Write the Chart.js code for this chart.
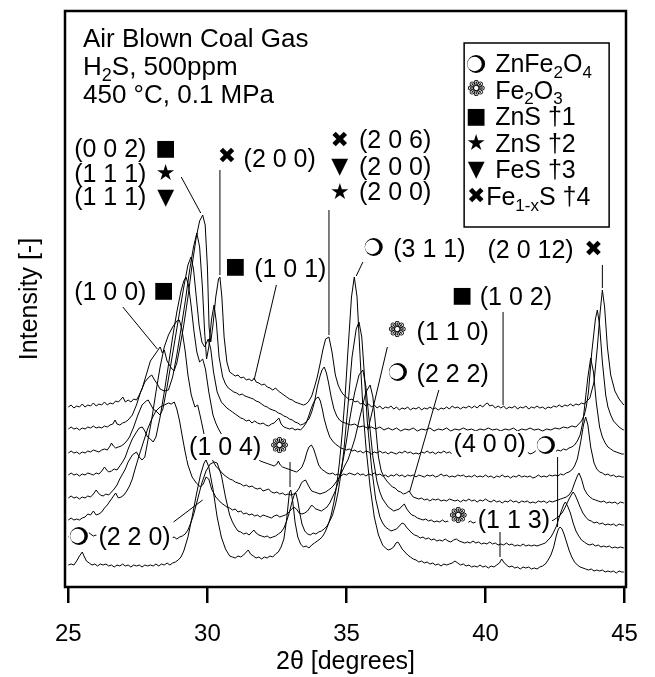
<!DOCTYPE html>
<html>
<head>
<meta charset="utf-8">
<script src="https://cdn.jsdelivr.net/npm/chart.js@4.4.1/dist/chart.umd.min.js"></script>
<style>
  html, body { margin: 0; padding: 0; background: #fff; }
  #wrap { width: 655px; height: 677px; }
</style>
</head>
<body>
<div id="wrap"><canvas id="xrdChart" width="655" height="677"></canvas></div>
<script>
// ============================
// Data (2theta in degrees, intensity in arbitrary units, offset per scan)
// scan1 = bottom pattern ... scan8 = top pattern
// ============================
const scan1 = [[25.0,22],[25.1,23],[25.2,22],[25.3,26],[25.4,31],[25.5,35],[25.58,30],[25.65,26],[25.75,24],[25.85,22],[25.95,23],[26.05,21],[26.15,23],[26.25,22],[26.35,23],[26.45,21],[26.55,22],[26.65,20],[26.75,22],[26.85,21],[26.95,23],[27.05,21],[27.15,22],[27.25,20],[27.35,22],[27.45,21],[27.55,22],[27.65,20],[27.75,22],[27.85,21],[27.95,22],[28.05,21],[28.15,23],[28.25,21],[28.35,23],[28.45,22],[28.55,24],[28.65,22],[28.75,24],[28.85,25],[28.95,27],[29.05,30],[29.15,36],[29.3,50],[29.45,70],[29.6,92],[29.75,112],[29.88,124],[29.95,127],[30.05,120],[30.2,98],[30.35,70],[30.5,50],[30.65,38],[30.8,31],[30.9,30],[31.0,29],[31.1,31],[31.2,30],[31.3,32],[31.4,35],[31.47,37],[31.55,33],[31.65,31],[31.75,29],[31.85,30],[31.95,28],[32.05,30],[32.15,29],[32.25,31],[32.35,30],[32.45,33],[32.55,35],[32.65,40],[32.75,48],[32.85,68],[32.95,95],[33.0,97],[33.07,85],[33.15,65],[33.25,50],[33.35,43],[33.45,40],[33.55,41],[33.65,39],[33.75,42],[33.85,44],[33.95,46],[34.05,48],[34.15,51],[34.25,56],[34.35,63],[34.45,72],[34.55,85],[34.65,102],[34.75,125],[34.85,155],[34.95,190],[35.05,235],[35.18,290],[35.28,310],[35.38,290],[35.5,225],[35.6,175],[35.7,140],[35.85,100],[36.0,70],[36.15,52],[36.3,42],[36.4,39],[36.5,37],[36.6,38],[36.7,40],[36.78,44],[36.85,45],[36.92,42],[37.0,38],[37.1,35],[37.2,32],[37.3,30],[37.4,28],[37.5,27],[37.6,25],[37.7,26],[37.8,24],[37.9,25],[38.0,23],[38.1,24],[38.2,22],[38.3,23],[38.4,21],[38.5,23],[38.6,22],[38.7,23],[38.8,24],[38.9,26],[39.0,24],[39.1,22],[39.2,23],[39.3,21],[39.4,22],[39.5,20],[39.6,21],[39.7,20],[39.8,22],[39.9,20],[40.0,21],[40.1,19],[40.2,21],[40.3,20],[40.4,22],[40.5,24],[40.58,28],[40.65,25],[40.75,22],[40.85,20],[40.95,21],[41.05,19],[41.15,20],[41.25,18],[41.35,20],[41.45,19],[41.55,20],[41.65,18],[41.75,19],[41.85,18],[41.95,20],[42.05,21],[42.15,23],[42.25,27],[42.35,32],[42.45,40],[42.55,52],[42.62,58],[42.68,60],[42.75,58],[42.82,53],[42.9,46],[43.0,37],[43.1,30],[43.2,25],[43.3,22],[43.4,20],[43.5,19],[43.6,18],[43.7,17],[43.8,18],[43.9,16],[44.0,17],[44.1,16],[44.2,17],[44.3,15],[44.4,16],[44.5,15],[44.6,16],[44.7,14],[44.8,16],[44.9,15],[44.97,15]];
const scan2 = [[25.0,50],[25.1,52],[25.2,50],[25.3,51],[25.4,49],[25.5,51],[25.6,52],[25.7,55],[25.8,53],[25.9,51],[26.0,52],[26.1,50],[26.2,51],[26.3,49],[26.4,51],[26.5,50],[26.6,52],[26.7,50],[26.8,51],[26.9,49],[27.0,51],[27.1,49],[27.2,50],[27.3,48],[27.4,50],[27.5,49],[27.6,50],[27.7,48],[27.8,50],[27.9,48],[28.0,49],[28.1,47],[28.2,49],[28.3,48],[28.4,50],[28.5,48],[28.6,51],[28.7,49],[28.8,50],[28.9,48],[29.0,50],[29.1,51],[29.2,53],[29.3,57],[29.4,64],[29.5,72],[29.65,88],[29.8,104],[29.95,116],[30.1,123],[30.25,125],[30.35,124],[30.5,112],[30.65,90],[30.8,72],[30.9,65],[31.0,60],[31.1,56],[31.2,55],[31.3,53],[31.4,54],[31.5,52],[31.6,55],[31.67,57],[31.75,54],[31.85,52],[31.95,51],[32.05,50],[32.15,51],[32.25,49],[32.35,50],[32.45,51],[32.55,53],[32.65,55],[32.75,59],[32.85,66],[32.95,75],[33.05,86],[33.12,92],[33.18,94],[33.25,86],[33.32,74],[33.4,63],[33.5,56],[33.6,53],[33.7,52],[33.8,54],[33.9,53],[34.0,55],[34.1,56],[34.2,58],[34.3,61],[34.4,66],[34.5,72],[34.6,82],[34.7,95],[34.8,113],[34.9,135],[35.05,180],[35.2,230],[35.35,258],[35.45,265],[35.55,250],[35.65,210],[35.75,165],[35.9,120],[36.05,88],[36.2,70],[36.3,64],[36.4,60],[36.5,58],[36.6,56],[36.7,57],[36.8,58],[36.9,61],[37.0,64],[37.08,63],[37.15,60],[37.25,57],[37.35,54],[37.45,52],[37.55,51],[37.65,49],[37.75,50],[37.85,48],[37.95,49],[38.05,47],[38.15,48],[38.25,46],[38.35,47],[38.45,46],[38.55,48],[38.65,46],[38.75,45],[38.85,47],[38.95,48],[39.05,46],[39.15,45],[39.25,44],[39.35,45],[39.45,44],[39.55,46],[39.65,44],[39.75,45],[39.85,43],[39.95,44],[40.05,43],[40.15,45],[40.25,43],[40.35,44],[40.45,42],[40.55,43],[40.65,42],[40.75,44],[40.85,42],[40.95,43],[41.05,41],[41.15,42],[41.25,41],[41.35,43],[41.45,41],[41.55,42],[41.65,41],[41.75,42],[41.85,41],[41.95,42],[42.05,43],[42.15,44],[42.25,47],[42.35,50],[42.45,55],[42.55,61],[42.65,70],[42.75,78],[42.82,83],[42.87,85],[42.95,81],[43.05,74],[43.15,64],[43.25,56],[43.35,51],[43.45,47],[43.55,45],[43.65,43],[43.75,42],[43.85,43],[43.95,41],[44.05,42],[44.15,40],[44.25,41],[44.35,40],[44.45,41],[44.55,39],[44.65,40],[44.75,39],[44.85,40],[44.97,39]];
const scan3 = [[25.0,67],[25.1,69],[25.2,67],[25.3,68],[25.4,67],[25.5,69],[25.6,70],[25.7,73],[25.8,72],[25.9,76],[26.0,72],[26.1,73],[26.2,75],[26.3,79],[26.4,82],[26.5,86],[26.6,90],[26.7,94],[26.8,89],[26.9,90],[27.0,92],[27.1,96],[27.2,101],[27.3,108],[27.4,118],[27.55,132],[27.7,145],[27.85,158],[28.0,168],[28.15,176],[28.3,180],[28.45,182],[28.6,184],[28.7,183],[28.81,185],[28.9,178],[29.0,166],[29.1,150],[29.2,135],[29.3,122],[29.45,110],[29.6,104],[29.75,100],[29.85,103],[29.95,110],[30.05,108],[30.15,98],[30.3,90],[30.4,87],[30.5,84],[30.6,82],[30.7,80],[30.8,79],[30.9,77],[31.0,78],[31.1,75],[31.2,76],[31.3,73],[31.4,74],[31.5,72],[31.6,73],[31.7,71],[31.8,72],[31.9,70],[32.0,72],[32.1,71],[32.2,70],[32.3,69],[32.4,71],[32.5,72],[32.6,70],[32.7,71],[32.8,72],[32.9,74],[33.0,77],[33.1,80],[33.2,78],[33.3,74],[33.4,73],[33.5,74],[33.6,76],[33.7,80],[33.75,82],[33.82,80],[33.9,78],[34.0,77],[34.1,76],[34.2,78],[34.3,80],[34.4,84],[34.5,90],[34.6,96],[34.7,105],[34.8,116],[34.9,130],[35.0,146],[35.1,165],[35.2,181],[35.3,195],[35.45,212],[35.59,217],[35.7,200],[35.82,165],[35.95,130],[36.1,105],[36.2,95],[36.3,88],[36.4,84],[36.5,80],[36.6,78],[36.7,76],[36.8,77],[36.9,78],[37.0,81],[37.08,83],[37.17,78],[37.25,75],[37.35,72],[37.45,71],[37.55,69],[37.65,68],[37.75,67],[37.85,68],[37.95,66],[38.05,67],[38.15,65],[38.25,66],[38.35,65],[38.45,67],[38.55,65],[38.65,66],[38.75,64],[38.85,66],[38.95,65],[39.05,66],[39.15,64],[39.25,65],[39.35,64],[39.45,66],[39.55,64],[39.65,65],[39.75,66],[39.85,64],[39.95,65],[40.05,64],[40.15,65],[40.25,63],[40.35,65],[40.45,64],[40.55,63],[40.65,64],[40.75,63],[40.85,65],[40.95,63],[41.05,64],[41.15,63],[41.25,64],[41.35,62],[41.45,64],[41.55,63],[41.65,64],[41.75,62],[41.85,63],[41.95,64],[42.05,63],[42.15,65],[42.25,64],[42.35,66],[42.45,67],[42.55,69],[42.65,71],[42.75,74],[42.85,79],[42.95,85],[43.02,89],[43.08,92],[43.15,95],[43.22,92],[43.3,87],[43.4,80],[43.5,74],[43.6,70],[43.7,67],[43.8,66],[43.9,64],[44.0,65],[44.1,63],[44.2,64],[44.3,62],[44.4,63],[44.5,62],[44.6,63],[44.7,61],[44.8,63],[44.9,62],[44.97,62]];
const scan4 = [[25.0,89],[25.1,91],[25.2,89],[25.3,90],[25.4,88],[25.5,90],[25.6,89],[25.7,91],[25.8,90],[25.9,93],[26.0,97],[26.08,94],[26.15,92],[26.25,91],[26.35,93],[26.45,92],[26.55,95],[26.65,98],[26.75,102],[26.85,108],[26.95,113],[27.05,118],[27.15,125],[27.3,132],[27.45,135],[27.55,130],[27.65,127],[27.75,130],[27.85,145],[28.0,168],[28.15,195],[28.3,220],[28.45,240],[28.6,252],[28.75,260],[28.9,266],[28.99,267],[29.08,258],[29.2,236],[29.3,212],[29.42,192],[29.55,180],[29.65,182],[29.75,170],[29.9,150],[30.05,135],[30.2,126],[30.3,121],[30.4,118],[30.5,115],[30.6,112],[30.7,110],[30.8,108],[30.9,107],[31.0,105],[31.1,104],[31.2,103],[31.3,101],[31.4,102],[31.5,100],[31.6,101],[31.7,99],[31.8,98],[31.9,99],[32.0,96],[32.1,97],[32.2,98],[32.3,95],[32.4,94],[32.5,95],[32.6,93],[32.7,94],[32.8,92],[32.9,93],[33.0,92],[33.1,93],[33.2,95],[33.3,99],[33.38,104],[33.45,106],[33.53,107],[33.6,103],[33.68,99],[33.75,96],[33.85,95],[33.95,94],[34.05,93],[34.15,94],[34.25,95],[34.35,97],[34.45,99],[34.55,102],[34.65,106],[34.75,110],[34.85,116],[34.95,122],[35.05,127],[35.15,135],[35.3,148],[35.5,172],[35.7,195],[35.85,202],[35.95,190],[36.05,160],[36.15,130],[36.25,116],[36.35,110],[36.45,106],[36.55,103],[36.65,100],[36.75,99],[36.85,96],[36.95,95],[37.05,93],[37.15,94],[37.25,96],[37.32,93],[37.4,90],[37.5,89],[37.6,88],[37.7,89],[37.8,87],[37.9,88],[38.0,86],[38.1,88],[38.2,87],[38.3,88],[38.4,86],[38.5,87],[38.6,86],[38.7,88],[38.8,87],[38.9,86],[39.0,87],[39.1,85],[39.2,87],[39.3,86],[39.4,88],[39.5,86],[39.6,87],[39.7,85],[39.8,87],[39.9,86],[40.0,88],[40.1,86],[40.2,85],[40.3,87],[40.4,85],[40.5,86],[40.6,84],[40.7,86],[40.8,85],[40.9,87],[41.0,85],[41.1,86],[41.2,84],[41.3,86],[41.4,85],[41.5,86],[41.6,84],[41.7,85],[41.8,84],[41.9,86],[42.0,85],[42.1,86],[42.2,84],[42.3,86],[42.4,85],[42.5,86],[42.6,87],[42.7,88],[42.8,89],[42.9,90],[43.0,92],[43.1,96],[43.2,104],[43.3,111],[43.36,114],[43.45,108],[43.55,98],[43.65,93],[43.75,90],[43.85,88],[43.95,87],[44.05,86],[44.15,85],[44.25,86],[44.35,84],[44.45,85],[44.55,84],[44.65,85],[44.75,83],[44.85,85],[44.97,84]];
const scan5 = [[25.0,112],[25.1,114],[25.2,112],[25.3,113],[25.4,111],[25.5,113],[25.6,112],[25.7,114],[25.8,113],[25.9,112],[26.0,114],[26.1,113],[26.2,116],[26.3,120],[26.38,117],[26.45,115],[26.55,116],[26.65,118],[26.75,117],[26.85,121],[26.95,125],[27.05,130],[27.15,138],[27.3,148],[27.45,155],[27.55,159],[27.66,160],[27.75,156],[27.85,150],[27.95,148],[28.05,145],[28.15,150],[28.3,170],[28.45,195],[28.6,222],[28.75,250],[28.9,275],[29.05,296],[29.15,306],[29.23,310],[29.32,302],[29.42,280],[29.52,255],[29.62,235],[29.72,225],[29.83,228],[29.93,218],[30.05,195],[30.2,172],[30.3,164],[30.4,158],[30.5,153],[30.6,150],[30.7,147],[30.8,145],[30.9,142],[31.0,141],[31.1,138],[31.2,137],[31.3,134],[31.4,135],[31.5,131],[31.6,130],[31.7,128],[31.8,129],[31.9,126],[32.0,125],[32.1,124],[32.2,123],[32.3,122],[32.4,121],[32.5,123],[32.55,126],[32.62,122],[32.7,120],[32.8,119],[32.9,118],[33.0,117],[33.1,116],[33.2,115],[33.3,117],[33.4,120],[33.5,127],[33.58,135],[33.65,140],[33.74,142],[33.82,138],[33.9,131],[34.0,122],[34.1,118],[34.2,116],[34.3,114],[34.4,113],[34.5,114],[34.6,112],[34.7,113],[34.8,111],[34.9,113],[35.0,112],[35.1,114],[35.2,113],[35.3,112],[35.4,114],[35.5,112],[35.6,113],[35.7,111],[35.8,113],[35.9,112],[36.0,114],[36.1,112],[36.2,113],[36.3,111],[36.4,112],[36.5,110],[36.6,112],[36.7,111],[36.8,113],[36.9,111],[37.0,112],[37.1,110],[37.2,112],[37.3,111],[37.4,112],[37.5,110],[37.6,112],[37.7,111],[37.8,110],[37.9,112],[38.0,111],[38.1,112],[38.2,110],[38.3,111],[38.4,113],[38.5,111],[38.6,112],[38.7,110],[38.8,111],[38.9,110],[39.0,112],[39.1,111],[39.2,112],[39.3,110],[39.4,111],[39.5,110],[39.6,112],[39.7,110],[39.8,111],[39.9,110],[40.0,112],[40.1,110],[40.2,111],[40.3,109],[40.4,111],[40.5,110],[40.6,112],[40.7,110],[40.8,111],[40.9,109],[41.0,111],[41.1,110],[41.2,112],[41.3,110],[41.4,111],[41.5,110],[41.6,111],[41.7,109],[41.8,110],[41.9,112],[42.0,110],[42.1,111],[42.2,110],[42.3,112],[42.4,111],[42.5,112],[42.6,111],[42.7,113],[42.8,112],[42.9,114],[43.0,115],[43.1,117],[43.2,121],[43.3,128],[43.42,145],[43.52,162],[43.6,170],[43.68,162],[43.78,140],[43.9,124],[44.0,118],[44.1,115],[44.2,114],[44.3,112],[44.4,113],[44.5,111],[44.6,112],[44.7,110],[44.8,111],[44.9,110],[44.97,110]];
const scan6 = [[25.0,134],[25.1,136],[25.2,134],[25.3,135],[25.4,133],[25.5,135],[25.6,134],[25.7,136],[25.8,135],[25.9,137],[26.0,136],[26.1,135],[26.2,137],[26.3,138],[26.4,137],[26.5,141],[26.55,144],[26.62,141],[26.7,139],[26.8,140],[26.9,141],[27.0,143],[27.1,146],[27.2,150],[27.35,160],[27.5,172],[27.65,182],[27.8,186],[27.87,187],[27.95,183],[28.05,178],[28.15,176],[28.3,172],[28.4,178],[28.55,200],[28.7,225],[28.85,250],[29.0,275],[29.15,300],[29.3,322],[29.41,330],[29.5,318],[29.6,290],[29.7,262],[29.8,245],[29.9,240],[30.03,248],[30.12,238],[30.22,215],[30.35,195],[30.5,185],[30.6,182],[30.7,179],[30.8,177],[30.9,175],[31.0,173],[31.1,171],[31.2,169],[31.3,168],[31.4,166],[31.5,167],[31.6,164],[31.7,166],[31.8,164],[31.9,163],[32.0,164],[32.1,162],[32.2,161],[32.3,163],[32.4,164],[32.5,167],[32.57,169],[32.65,163],[32.75,160],[32.85,159],[32.95,158],[33.05,159],[33.15,157],[33.25,158],[33.35,157],[33.45,160],[33.55,164],[33.63,170],[33.7,176],[33.78,182],[33.85,186],[33.92,189],[33.99,190],[34.06,186],[34.13,178],[34.2,168],[34.3,158],[34.4,150],[34.5,146],[34.6,143],[34.7,141],[34.8,139],[34.9,138],[35.0,137],[35.1,138],[35.2,136],[35.3,137],[35.4,135],[35.5,136],[35.6,134],[35.7,136],[35.8,135],[35.9,133],[36.0,135],[36.1,134],[36.2,136],[36.3,134],[36.4,135],[36.5,133],[36.6,135],[36.7,134],[36.8,133],[36.9,135],[37.0,134],[37.1,136],[37.2,134],[37.3,135],[37.4,133],[37.5,134],[37.6,133],[37.7,135],[37.8,134],[37.9,136],[38.0,134],[38.1,135],[38.2,133],[38.3,135],[38.4,134],[38.5,136],[38.6,134],[38.7,135],[38.8,133],[38.9,134],[39.0,136],[39.1,134],[39.2,135],[39.3,133],[39.4,134],[39.5,136],[39.6,134],[39.7,135],[39.8,133],[39.9,135],[40.0,134],[40.1,136],[40.2,134],[40.3,135],[40.4,137],[40.5,135],[40.6,134],[40.7,136],[40.8,134],[40.9,135],[41.0,133],[41.1,135],[41.2,134],[41.3,136],[41.4,134],[41.5,135],[41.6,133],[41.7,134],[41.8,136],[41.9,134],[42.0,135],[42.1,134],[42.2,136],[42.3,135],[42.4,136],[42.5,135],[42.6,137],[42.7,136],[42.8,138],[42.9,137],[43.0,139],[43.1,140],[43.2,142],[43.3,146],[43.4,152],[43.5,165],[43.6,190],[43.68,210],[43.78,229],[43.88,215],[43.98,185],[44.1,160],[44.2,150],[44.3,144],[44.4,140],[44.5,138],[44.6,136],[44.7,135],[44.8,134],[44.9,133],[44.97,133]];
const scan7 = [[25.0,158],[25.1,160],[25.2,158],[25.3,159],[25.4,157],[25.5,159],[25.6,158],[25.7,160],[25.8,159],[25.9,161],[26.0,159],[26.1,160],[26.2,159],[26.3,161],[26.4,160],[26.5,162],[26.6,163],[26.68,167],[26.75,163],[26.85,162],[26.95,164],[27.05,165],[27.15,167],[27.3,172],[27.45,182],[27.6,195],[27.75,205],[27.9,210],[28.0,212],[28.1,207],[28.2,203],[28.3,198],[28.45,196],[28.6,197],[28.75,210],[28.9,232],[29.05,258],[29.2,285],[29.35,315],[29.5,340],[29.62,354],[29.72,340],[29.82,300],[29.9,255],[29.97,228],[30.05,240],[30.15,268],[30.24,282],[30.32,265],[30.42,230],[30.55,210],[30.65,203],[30.75,199],[30.85,197],[30.95,195],[31.05,194],[31.15,192],[31.25,193],[31.35,191],[31.45,190],[31.55,189],[31.65,188],[31.75,186],[31.85,185],[31.95,183],[32.05,181],[32.15,180],[32.25,178],[32.35,177],[32.45,176],[32.55,174],[32.65,173],[32.75,171],[32.85,170],[32.95,168],[33.05,167],[33.15,165],[33.25,164],[33.35,162],[33.45,163],[33.55,165],[33.65,168],[33.75,175],[33.85,185],[33.95,200],[34.05,211],[34.12,217],[34.2,220],[34.28,214],[34.35,205],[34.45,190],[34.55,178],[34.65,171],[34.75,167],[34.85,165],[34.95,164],[35.05,163],[35.15,162],[35.3,163],[35.45,160],[35.6,161],[35.75,159],[35.9,160],[36.05,158],[36.2,160],[36.35,157],[36.5,159],[36.65,157],[36.8,159],[36.95,156],[37.1,158],[37.25,157],[37.4,159],[37.55,156],[37.7,158],[37.85,157],[38.0,159],[38.15,156],[38.3,158],[38.45,157],[38.6,159],[38.75,156],[38.9,158],[39.05,157],[39.2,159],[39.35,157],[39.5,158],[39.65,156],[39.8,158],[39.95,157],[40.1,159],[40.25,157],[40.4,158],[40.55,156],[40.7,158],[40.85,157],[41.0,159],[41.15,156],[41.3,158],[41.45,157],[41.6,159],[41.75,157],[41.9,158],[42.05,156],[42.2,158],[42.35,157],[42.5,159],[42.65,158],[42.8,160],[42.95,159],[43.1,161],[43.25,160],[43.35,163],[43.45,166],[43.55,172],[43.62,180],[43.7,195],[43.82,235],[43.95,268],[44.02,277],[44.1,262],[44.2,225],[44.32,192],[44.4,180],[44.5,172],[44.6,166],[44.7,163],[44.8,160],[44.9,158],[44.97,157]];
const scan8 = [[25.0,180],[25.1,182],[25.2,179],[25.3,181],[25.4,180],[25.5,183],[25.6,180],[25.7,182],[25.8,181],[25.9,184],[26.0,181],[26.1,183],[26.2,182],[26.3,185],[26.4,182],[26.5,184],[26.6,183],[26.7,186],[26.8,185],[26.9,188],[26.96,190],[27.05,185],[27.15,187],[27.25,185],[27.35,188],[27.45,187],[27.55,192],[27.65,198],[27.8,212],[27.95,226],[28.1,232],[28.2,236],[28.3,240],[28.38,234],[28.45,237],[28.55,226],[28.7,219],[28.8,216],[28.9,224],[29.0,238],[29.15,262],[29.3,290],[29.45,322],[29.6,350],[29.72,366],[29.83,372],[29.92,362],[30.0,320],[30.06,260],[30.12,245],[30.2,262],[30.3,290],[30.4,308],[30.45,310],[30.52,290],[30.6,250],[30.7,225],[30.8,215],[30.9,213],[31.0,211],[31.1,212],[31.2,209],[31.3,210],[31.4,207],[31.5,208],[31.6,206],[31.68,209],[31.75,205],[31.85,204],[31.95,202],[32.05,203],[32.15,200],[32.25,199],[32.35,197],[32.45,199],[32.55,196],[32.65,194],[32.75,192],[32.85,190],[32.95,188],[33.05,187],[33.15,185],[33.25,184],[33.35,183],[33.45,182],[33.55,183],[33.65,186],[33.75,191],[33.85,200],[33.95,210],[34.05,223],[34.15,237],[34.25,248],[34.37,250],[34.48,235],[34.6,212],[34.7,202],[34.8,196],[34.9,192],[35.0,190],[35.1,187],[35.2,188],[35.3,185],[35.4,186],[35.5,183],[35.6,184],[35.7,181],[35.8,183],[35.9,180],[36.0,182],[36.1,179],[36.2,181],[36.3,178],[36.4,180],[36.5,179],[36.6,181],[36.7,178],[36.8,180],[36.9,177],[37.0,179],[37.1,178],[37.2,180],[37.3,177],[37.4,179],[37.5,178],[37.6,180],[37.7,177],[37.8,179],[37.9,178],[38.0,180],[38.1,178],[38.2,179],[38.3,177],[38.4,179],[38.5,178],[38.6,180],[38.7,178],[38.8,181],[38.9,179],[39.0,180],[39.1,178],[39.2,180],[39.3,179],[39.4,181],[39.5,179],[39.6,181],[39.7,179],[39.8,182],[39.9,180],[40.0,183],[40.07,184],[40.15,181],[40.25,182],[40.35,179],[40.45,181],[40.55,179],[40.65,181],[40.75,178],[40.85,180],[40.95,179],[41.05,181],[41.15,178],[41.25,180],[41.35,179],[41.45,181],[41.55,178],[41.65,180],[41.75,179],[41.85,181],[41.95,179],[42.05,180],[42.15,178],[42.25,180],[42.35,179],[42.45,181],[42.55,180],[42.65,182],[42.75,180],[42.85,182],[42.95,181],[43.05,183],[43.15,181],[43.25,183],[43.35,182],[43.45,184],[43.55,183],[43.65,186],[43.75,189],[43.9,205],[44.02,240],[44.12,275],[44.2,297],[44.28,280],[44.38,240],[44.5,212],[44.65,196],[44.8,188],[44.97,182]];
const scans = [scan1, scan2, scan3, scan4, scan5, scan6, scan7, scan8];

const xTickStep = 5;
const titleLines = ["Air Blown Coal Gas", "H_2S, 500ppm", "450 °C, 0.1 MPa"];
const legendSymbols = ["❍", "❁", "■", "★", "▼", "✖"];
const legendTexts = ["ZnFe_2O_4", "Fe_2O_3", "ZnS †1", "ZnS †2", "FeS †3", "Fe_{1-x}S †4"];

// peak labels: text placed at (x, y) in data units, baseline-left
const peakTexts = [
    { t: "(0 0 2)", x: 25.21, y: 430 },
    { t: "(1 1 1)", x: 25.21, y: 405 },
    { t: "(1 1 1)", x: 25.21, y: 382 },
    { t: "(2 0 0)", x: 31.3, y: 420 },
    { t: "(2 0 6)", x: 35.45, y: 439 },
    { t: "(2 0 0)", x: 35.45, y: 412 },
    { t: "(2 0 0)", x: 35.45, y: 387 },
    { t: "(1 0 1)", x: 31.68, y: 310 },
    { t: "(3 1 1)", x: 36.68, y: 330 },
    { t: "(1 0 0)", x: 25.21, y: 287 },
    { t: "(1 0 2)", x: 39.79, y: 282 },
    { t: "(2 0 12)", x: 40.07, y: 329 },
    { t: "(1 1 0)", x: 37.52, y: 247 },
    { t: "(2 2 2)", x: 37.52, y: 205 },
    { t: "(1 0 4)", x: 29.34, y: 132 },
    { t: "(4 0 0)", x: 38.85, y: 135 },
    { t: "(1 1 3)", x: 39.72, y: 59 },
    { t: "(2 2 0)", x: 26.08, y: 42 }
];
const peakSymbols = [
    { s: "■", x: 28.5, y: 438 }, { s: "★", x: 28.5, y: 413 }, { s: "▼", x: 28.5, y: 389 },
    { s: "✖", x: 30.7, y: 430 },
    { s: "✖", x: 34.76, y: 446 }, { s: "▼", x: 34.76, y: 420 }, { s: "★", x: 34.76, y: 394 },
    { s: "■", x: 31.01, y: 320 },
    { s: "❍", x: 35.98, y: 340 },
    { s: "■", x: 28.43, y: 296 },
    { s: "■", x: 39.16, y: 291 },
    { s: "✖", x: 43.88, y: 337 },
    { s: "❁", x: 36.82, y: 256 },
    { s: "❍", x: 36.85, y: 215 },
    { s: "❁", x: 32.59, y: 140 },
    { s: "❍", x: 42.17, y: 142 },
    { s: "❁", x: 39.02, y: 70 },
    { s: "❍", x: 25.38, y: 51 }
];
const leaders = [
    [29.06, 410, 29.76, 374],
    [30.45, 417, 30.45, 312],
    [34.37, 377, 34.37, 252],
    [32.48, 302, 31.68, 207],
    [35.59, 325, 35.35, 311],
    [26.96, 280, 28.2, 238],
    [40.63, 275, 40.63, 182],
    [44.2, 322, 44.2, 299],
    [36.47, 240, 35.77, 157],
    [38.32, 197, 37.27, 95],
    [32.97, 125, 32.97, 100],
    [42.59, 130, 42.59, 60],
    [40.52, 55, 40.52, 30],
    [28.78, 65, 29.83, 87]
];

// ============================
// Helpers
// ============================
const TXT = '"Liberation Sans", Arial, sans-serif';
const SYM = '"DejaVu Sans", sans-serif';

function drawRich(ctx, str, x, y, size, measureOnly) {
    const parts = [];
    let i = 0;
    while (i < str.length) {
        if (str[i] === "_") {
            if (str[i + 1] === "{") {
                const j = str.indexOf("}", i);
                parts.push({ t: str.slice(i + 2, j), sub: true });
                i = j + 1;
            } else {
                parts.push({ t: str[i + 1], sub: true });
                i += 2;
            }
        } else {
            let j = i;
            while (j < str.length && str[j] !== "_") j++;
            parts.push({ t: str.slice(i, j), sub: false });
            i = j;
        }
    }
    let cx = x;
    parts.forEach(p => {
        const fs = p.sub ? Math.round(size * 0.68) : size;
        ctx.font = fs + "px " + TXT;
        if (!measureOnly) ctx.fillText(p.t, cx, p.sub ? y + size * 0.22 : y);
        cx += ctx.measureText(p.t).width;
    });
    return cx - x;
}

// marker glyphs; the ZnFe2O4 circle is drawn as a shaded ring like the original
function drawSymbol(ctx, s, px, py) {
    if (s === "❍") {
        ctx.fillStyle = "#000";
        ctx.beginPath();
        ctx.arc(px, py, 9, 0, Math.PI * 2);
        ctx.fill();
        ctx.fillStyle = "#fff";
        ctx.beginPath();
        ctx.arc(px - 1.6, py, 7.2, 0, Math.PI * 2);
        ctx.fill();
        ctx.fillStyle = "#000";
        return;
    }
    ctx.textAlign = "center";
    ctx.textBaseline = "middle";
    ctx.font = "22px " + SYM;
    ctx.fillText(s, px, py);
}

const notesPlugin = {
    id: "notes",
    afterDatasetsDraw(chart) {
        const { ctx, chartArea: a, scales: { x, y } } = chart;
        ctx.save();
        ctx.textAlign = "left";
        ctx.textBaseline = "alphabetic";

        // white backgrounds of peak labels
        peakTexts.forEach(p => {
            const px = x.getPixelForValue(p.x), py = y.getPixelForValue(p.y);
            const w = drawRich(ctx, p.t, px, py, 25, true);
            ctx.fillStyle = "#fff";
            ctx.fillRect(px - 2, py - 21, w + 4, 26);
        });
        peakSymbols.forEach(p => {
            const px = x.getPixelForValue(p.x), py = y.getPixelForValue(p.y);
            ctx.fillStyle = "#fff";
            ctx.fillRect(px - 10, py - 10, 20, 20);
        });

        ctx.fillStyle = "#000";
        ctx.textAlign = "left";
        ctx.textBaseline = "alphabetic";
        peakTexts.forEach(p => {
            drawRich(ctx, p.t, x.getPixelForValue(p.x), y.getPixelForValue(p.y), 25);
        });
        peakSymbols.forEach(p => {
            drawSymbol(ctx, p.s, x.getPixelForValue(p.x), y.getPixelForValue(p.y));
        });

        // leader lines
        ctx.strokeStyle = "#000";
        ctx.lineWidth = 1;
        leaders.forEach(l => {
            ctx.beginPath();
            ctx.moveTo(x.getPixelForValue(l[0]), y.getPixelForValue(l[1]));
            ctx.lineTo(x.getPixelForValue(l[2]), y.getPixelForValue(l[3]));
            ctx.stroke();
        });

        // sample description
        ctx.fillStyle = "#000";
        ctx.textAlign = "left";
        ctx.textBaseline = "alphabetic";
        titleLines.forEach((t, i) => {
            drawRich(ctx, t, a.left + 18, a.top + 36 + i * 28, 26);
        });

        // legend box
        const lx = x.getPixelForValue(39.23), ly = y.getPixelForValue(544);
        const lw = 145, lh = 184;
        ctx.fillStyle = "#fff";
        ctx.fillRect(lx, ly, lw, lh);
        ctx.lineWidth = 1.5;
        ctx.strokeRect(lx, ly, lw, lh);
        ctx.fillStyle = "#000";
        legendSymbols.forEach((s, i) => {
            const rowY = ly + 29 + i * 26.6;
            drawSymbol(ctx, s, lx + 12, rowY - 8);
            ctx.textAlign = "left";
            ctx.textBaseline = "alphabetic";
            drawRich(ctx, legendTexts[i], lx + (i === 5 ? 22 : 31), rowY, 25);
        });

        // plot frame
        ctx.lineWidth = 2.5;
        ctx.strokeRect(a.left, a.top, a.right - a.left, a.bottom - a.top);
        ctx.restore();
    }
};

// ============================
// Chart
// ============================
const chartCanvas = document.getElementById("xrdChart");
const xrdChart = new Chart(chartCanvas.getContext("2d"), {
    type: "line",
    data: {
        datasets: scans.map(s => ({
            data: s.map(([tt, inten]) => ({ x: tt, y: inten })),
            borderColor: "#000",
            borderWidth: 1,
            pointRadius: 0,
            fill: false,
            tension: 0
        }))
    },
    options: {
        responsive: false,
        animation: false,
        devicePixelRatio: 1,
        layout: { padding: { top: 11, right: 13, left: 0, bottom: 0 } },
        plugins: { legend: { display: false }, tooltip: { enabled: false } },
        scales: {
            x: {
                type: "linear",
                min: 24.88,
                max: 45.05,
                afterFit: s => { s.height = 90; },
                ticks: {
                    stepSize: xTickStep,
                    includeBounds: false,
                    color: "#000",
                    padding: 17,
                    font: { size: 24, family: TXT }
                },
                grid: { drawOnChartArea: false, drawTicks: true, tickLength: 16, lineWidth: 2.5, color: "#000" },
                border: { display: false },
                title: { display: true, text: "2θ [degrees]", color: "#000", padding: { top: 0, bottom: 0 }, font: { size: 25, family: TXT } }
            },
            y: {
                min: 0,
                max: 576,
                afterFit: s => { s.width = 65; },
                ticks: { display: false },
                grid: { display: false },
                border: { display: false },
                title: { display: true, text: "Intensity [-]", color: "#000", padding: { top: 15, bottom: 0 }, font: { size: 25, family: TXT } }
            }
        }
    },
    plugins: [notesPlugin]
});
</script>
</body>
</html>
